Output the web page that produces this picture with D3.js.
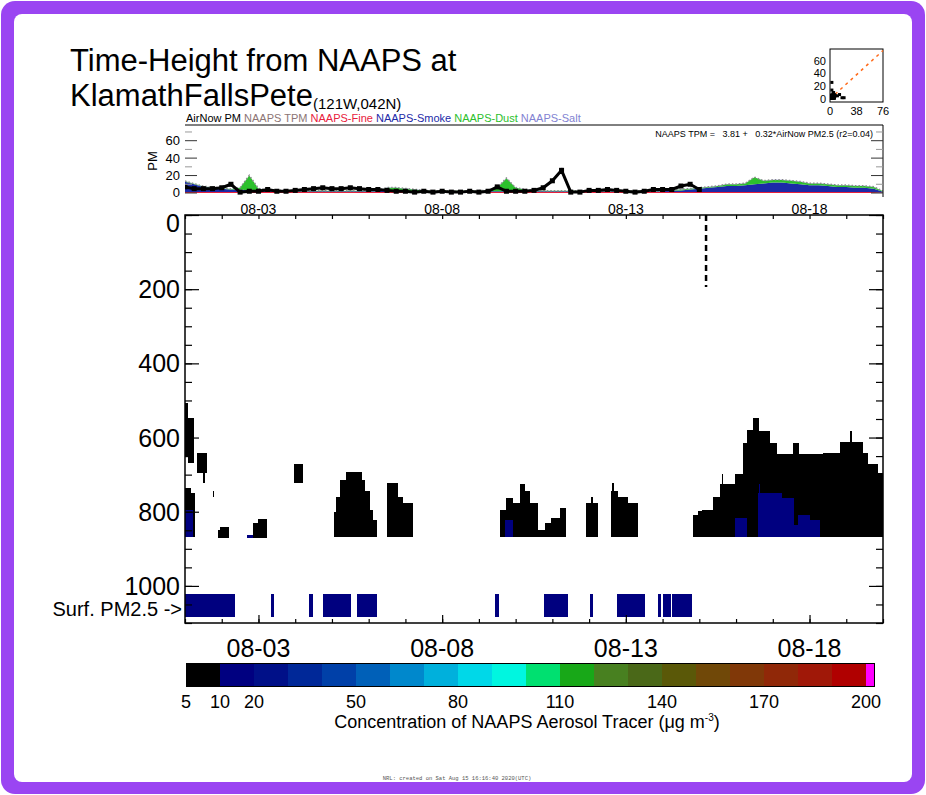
<!DOCTYPE html>
<html>
<head>
<meta charset="utf-8">
<script src="https://cdn.jsdelivr.net/npm/d3@7"></script>
<style>
  body { margin: 0; background: #fff; }
  svg { display: block; font-family: "Liberation Sans", Arial, sans-serif; }
</style>
</head>
<body>
<div id="chart"></div>
<script>

const FRAME_WIDTH = 926;
const FRAME_HEIGHT = 795;

// ---- data (time = hours since 2020-08-01 00Z, 19 days shown) ----
const N_HOURS = 456;
const DAY_TICKS = d3.range(0, 20);             // daily tick marks
const DATE_LABELS = ["08-03", "08-08", "08-13", "08-18"];
const DATE_LABEL_DAYS = [2, 7, 12, 17];

// top panel, 6-hourly values (ug/m3)
const AIRNOW_PM = [7, 5, 5, 5, 6, 10, 1, 2, 2, 4,
                   2, 2, 3, 4, 5, 6, 5, 5, 6, 5,
                   4, 4, 3, 2, 2, 1, 2, 1, 2, 1,
                   1, 2, 1, 2, 7, 2, 2, 2, 3, 6,
                   14, 26, 1, 1, 3, 3, 4, 3, 2, 1,
                   2, 4, 4, 4, 8, 10, 4];
const NAAPS_FINE = [1, 1, 1, 1, 1, 1, 1, 1, 1, 1,
                    1, 1, 1, 1, 1, 1, 1, 1, 1, 1,
                    1, 1, 1, 1, 1, 1, 1, 1, 1, 1,
                    1, 1, 1, 1, 1, 1, 1, 1, 1, 1,
                    1, 1, 1, 1, 1, 1, 1, 1, 1, 1,
                    1, 1, 1, 1, 1, 1, 1, 1, 1, 1,
                    1, 1, 1, 1, 1, 1, 1, 1, 1, 1,
                    1, 1, 1, 1, 1, 1, 0.5];
const NAAPS_SMOKE = [12, 9, 6, 5, 4, 3, 3, 2, 2, 2,
                     2, 1, 1, 1, 1, 1, 1, 1, 1, 1,
                     1, 1, 2, 2, 2, 1, 1, 1, 1, 1,
                     1, 1, 1, 1, 1, 1, 1, 1, 1, 1,
                     1, 1, 1, 1, 1, 1, 1, 1, 1, 1,
                     1, 1, 1, 2, 2, 3, 4, 5, 6, 7,
                     7, 8, 9, 10, 11, 11, 10, 9, 8, 8,
                     7, 6, 6, 5, 5, 4, 1];
const NAAPS_DUST = [0.5, 0.5, 0.5, 0.5, 0.5, 0.5, 2, 17, 2, 0.5,
                    0.5, 0.5, 0.5, 0.5, 0.5, 0.5, 0.5, 0.5, 0.5, 0.5,
                    0.5, 1, 3, 3, 2, 2, 1, 0.5, 0.5, 0.5,
                    0.5, 0.5, 0.5, 1, 4, 15, 4, 2, 1, 0.5,
                    0.5, 0.5, 0.5, 0.5, 0.5, 0.5, 0.5, 0.5, 0.5, 0.5,
                    0.5, 0.5, 0.5, 0.5, 1, 1, 1, 1, 1, 2,
                    2, 2, 8, 3, 3, 3, 3, 3, 2, 2,
                    2, 2, 2, 2, 2, 2, 0.5];
const NAAPS_SALT = [0.2, 0.2, 0.2, 0.2, 0.2, 0.2, 0.2, 0.2, 0.2, 0.2,
                    0.2, 0.2, 0.2, 0.2, 0.2, 0.2, 0.2, 0.2, 0.2, 0.2,
                    0.2, 0.2, 0.2, 0.2, 0.2, 0.2, 0.2, 0.2, 0.2, 0.2,
                    0.2, 0.2, 0.2, 0.2, 0.2, 0.2, 0.2, 0.2, 0.2, 0.2,
                    0.2, 0.2, 0.2, 0.2, 0.2, 0.2, 0.2, 0.2, 0.2, 0.2,
                    0.2, 0.2, 0.2, 0.2, 0.2, 0.2, 0.2, 0.2, 0.2, 0.2,
                    0.2, 0.2, 0.2, 0.2, 0.2, 0.2, 0.2, 0.2, 0.2, 0.2,
                    0.2, 0.2, 0.2, 0.2, 0.2, 0.2, 0.1];
const LEGEND_NAMES = ["AirNow PM", "NAAPS TPM", "NAAPS-Fine", "NAAPS-Smoke", "NAAPS-Dust", "NAAPS-Salt"];
const LEGEND_COLORS = ["#000000", "#8c7474", "#e8203c", "#1c2aa8", "#2cc02c", "#8282d2"];

// main time-height field: [hourStart, hourEnd, topLevel, bottomLevel]
const CELLS_5_10 = [
  [0, 2, 507, 650], [2, 6, 547, 668], [7.8, 14.4, 641, 695], [12, 13, 695, 722],
  [0, 4, 736, 868], [4, 6.5, 749, 868], [18, 19, 744, 760],
  [21.5, 23, 850, 870], [23, 28.5, 840, 870], [44.4, 47.7, 830, 870], [47.7, 53.6, 819, 870],
  [71.2, 77.1, 671, 722],
  [97.5, 98.5, 800, 868], [98.5, 101.3, 760, 868], [101.3, 105, 714, 868], [105, 115.5, 693, 868],
  [115.5, 117.6, 714, 868], [117.6, 120.9, 744, 868], [120.9, 122.8, 795, 868], [122.8, 125.3, 822, 868],
  [132, 139.2, 722, 868], [139.2, 142.4, 760, 868], [142.4, 149, 776, 868],
  [205.8, 209.7, 795, 868], [209.7, 214.3, 763, 868], [214.3, 218.9, 776, 868], [218.9, 222.2, 725, 868],
  [222.2, 225.4, 744, 868], [225.4, 230.7, 776, 868], [230.7, 235.2, 850, 868], [235.2, 239.1, 830, 868],
  [239.1, 245, 817, 868], [245, 248.9, 790, 868],
  [262, 269.9, 776, 868], [265.5, 266.5, 760, 776],
  [278.3, 282.9, 744, 868], [279.2, 280, 722, 744], [282.9, 289.5, 760, 868], [289.5, 296, 776, 868],
  [331.9, 335.2, 809, 868], [335.2, 337.8, 798, 868], [337.8, 345, 795, 868], [345, 349.6, 760, 868],
  [349.6, 359.4, 725, 868], [350.5, 351.5, 698, 725], [359.4, 364.6, 698, 868], [364.6, 367.2, 614, 868],
  [367.2, 371.1, 579, 868], [371.1, 375, 547, 868], [375, 382.2, 582, 868], [382.2, 386.8, 614, 868],
  [386.8, 397.3, 644, 868], [397.3, 401.2, 614, 868], [401.2, 416.9, 644, 868], [416.9, 428, 641, 868],
  [428, 443, 612, 868], [434.5, 435.5, 582, 612], [443, 446.3, 641, 868], [446.3, 452.8, 671, 868],
  [452.8, 456, 695, 868]
];
const CELLS_10_20 = [
  [0, 5, 795, 868], [40.5, 44.4, 862, 870], [209, 214.3, 822, 868],
  [359.4, 367.2, 817, 868], [374.3, 390, 749, 868], [374.8, 375.6, 725, 749],
  [390, 397.9, 763, 868], [397.9, 400.5, 835, 868], [400.5, 408.3, 809, 868], [408.3, 414.8, 822, 868]
];
// surface PM2.5 observations in the 10-20 bin: [hourStart, hourEnd]
const SURF_PM = [
  [0, 32.7], [56.2, 58.2], [81, 83.6], [90.2, 108.5], [112.4, 125.5], [202.6, 205.2],
  [234.6, 250.3], [264.6, 266.6], [282.3, 300.6], [309, 311], [312.3, 317.5], [318.2, 331.3]
];
const SURF_LEVELS = [1021, 1083];
const NOW_HOUR = 340.4;

// color bar
const CBAR_COLORS = ["#000000", "#000080", "#001088", "#002898", "#0040a8", "#0060b8", "#0088cc",
                     "#00b0dc", "#00d8e8", "#00f6e0", "#00e070", "#18a818", "#488020", "#4a6818",
                     "#5a5808", "#704808", "#803808", "#902808", "#a01808", "#b00000"];
const CBAR_LABELS = [5, 10, 20, 50, 80, 110, 140, 170, 200];

// ---- layout ----
const svg = d3.select("#chart")
              .append("svg")
                .attr("width", FRAME_WIDTH)
                .attr("height", FRAME_HEIGHT);

svg.append("rect").attr("x", 1).attr("y", 1).attr("width", 924).attr("height", 793)
   .attr("rx", 14).attr("fill", "#9a45f2");
svg.append("rect").attr("x", 14).attr("y", 14).attr("width", 898).attr("height", 768)
   .attr("rx", 8).attr("fill", "#ffffff");

// title
svg.append("text").attr("x", 70).attr("y", 71).attr("font-size", 31)
   .text("Time-Height from NAAPS at");
const t2 = svg.append("text").attr("x", 70).attr("y", 106).attr("font-size", 31);
t2.append("tspan").text("KlamathFallsPete");
t2.append("tspan").attr("font-size", 15).attr("dy", 3).text("(121W,042N)");

const X = d3.scaleLinear().domain([0, N_HOURS]).range([185, 883]);

// ================= top PM panel =================
const PM_Y = d3.scaleLinear().domain([-4.6, 78]).range([197, 125]);

const table = NAAPS_FINE.map((d, i) => ({
  h: i * 6, fine: d, smoke: NAAPS_SMOKE[i], dust: NAAPS_DUST[i], salt: NAAPS_SALT[i]
}));
const series = d3.stack().keys(["fine", "smoke", "dust", "salt"])(table);
const stackColors = {fine: "#e8203c", smoke: "#1c2aa8", dust: "#2cc02c", salt: "#8282d2"};

svg.append("clipPath").attr("id", "pmclip")
   .append("rect").attr("x", 185).attr("y", 125).attr("width", 698).attr("height", 73);

const pm = svg.append("g").attr("clip-path", "url(#pmclip)");

const area = d3.area()
               .x((d) => X(d.data.h))
               .y0((d) => PM_Y(d[0]))
               .y1((d) => PM_Y(d[1]));

pm.selectAll(".stack")
  .data(series)
  .enter()
  .append("path")
    .attr("class", "stack")
    .attr("d", area)
    .attr("fill", (d) => stackColors[d.key]);

// total NAAPS PM (dotted)
pm.append("path")
  .datum(table)
  .attr("d", d3.line().x((d) => X(d.h)).y((d) => PM_Y(d.fine + d.smoke + d.dust + d.salt)))
  .attr("fill", "none").attr("stroke", "#8c8c8c").attr("stroke-width", 1.5)
  .attr("stroke-dasharray", "1.5,2");

// AirNow observations
pm.append("path")
  .datum(AIRNOW_PM)
  .attr("d", d3.line().x((d, i) => X(i * 6)).y((d) => PM_Y(d)))
  .attr("fill", "none").attr("stroke", "#000").attr("stroke-width", 3);
pm.selectAll(".obs")
  .data(AIRNOW_PM)
  .enter()
  .append("rect")
    .attr("class", "obs")
    .attr("x", (d, i) => X(i * 6) - 2.5)
    .attr("y", (d) => PM_Y(d) - 2.5)
    .attr("width", 5).attr("height", 5)
    .attr("fill", "#000");

// panel frame + ticks
svg.append("path").attr("d", "M185,125H883V197").attr("fill", "none").attr("stroke", "#000");
const pmTicks = d3.range(0, 80, 10);
svg.selectAll(".pmtickL")
   .data(pmTicks).enter().append("line")
     .attr("x1", 185).attr("x2", (d) => d % 20 === 0 ? 197 : 192)
     .attr("y1", (d) => PM_Y(d)).attr("y2", (d) => PM_Y(d))
     .attr("stroke", (d) => d % 20 === 0 ? "#333" : "#999");
svg.selectAll(".pmtickR")
   .data(pmTicks).enter().append("line")
     .attr("x1", 883).attr("x2", (d) => d % 20 === 0 ? 871 : 876)
     .attr("y1", (d) => PM_Y(d)).attr("y2", (d) => PM_Y(d))
     .attr("stroke", (d) => d % 20 === 0 ? "#333" : "#999");
svg.selectAll(".pmlab")
   .data([0, 20, 40, 60]).enter().append("text")
     .attr("x", 180).attr("y", (d) => PM_Y(d) + 4.5)
     .attr("text-anchor", "end").attr("font-size", 13)
     .text((d) => d);
svg.append("text").attr("transform", "translate(157,161) rotate(-90)")
   .attr("text-anchor", "middle").attr("font-size", 13).text("PM");

// legend
const leg = svg.append("text").attr("x", 186).attr("y", 122).attr("font-size", 11);
LEGEND_NAMES.forEach((n, i) => {
  leg.append("tspan").attr("fill", LEGEND_COLORS[i]).text((i > 0 ? " " : "") + n);
});

svg.append("text").attr("x", 873).attr("y", 137).attr("text-anchor", "end")
   .attr("font-size", 9).style("white-space", "pre")
   .text("NAAPS TPM =   3.81 +   0.32*AirNow PM2.5 (r2=0.04)");

svg.selectAll(".pmdate")
   .data(DATE_LABELS).enter().append("text")
     .attr("x", (d, i) => X(DATE_LABEL_DAYS[i] * 24))
     .attr("y", 214).attr("text-anchor", "middle").attr("font-size", 14)
     .text((d) => d);

// ================= inset scatter =================
const SX = d3.scaleLinear().domain([0, 76]).range([830, 883]);
const SY = d3.scaleLinear().domain([0, 60]).range([99, 60.7]);
const scatter = svg.append("g");
scatter.append("rect").attr("x", 830).attr("y", 49).attr("width", 53).attr("height", 53)
       .attr("fill", "none").attr("stroke", "#000");
scatter.append("line")
       .attr("x1", SX(0)).attr("y1", SY(0)).attr("x2", SX(76)).attr("y2", SY(76))
       .attr("stroke", "#ff6a1a").attr("stroke-width", 1.5).attr("stroke-dasharray", "3,4");
scatter.selectAll(".pt")
       .data(AIRNOW_PM).enter().append("rect")
         .attr("x", (d, i) => SX(table[i].fine + table[i].smoke + table[i].dust + table[i].salt) - 1.5)
         .attr("y", (d) => SY(d) - 1.5)
         .attr("width", 3).attr("height", 3)
         .attr("fill", "#000");
scatter.selectAll(".sylab")
       .data([0, 20, 40, 60]).enter().append("text")
         .attr("x", 826).attr("y", (d) => SY(d) + 4)
         .attr("text-anchor", "end").attr("font-size", 11).text((d) => d);
scatter.selectAll(".sxlab")
       .data([0, 38, 76]).enter().append("text")
         .attr("x", (d) => SX(d)).attr("y", 115)
         .attr("text-anchor", "middle").attr("font-size", 11).text((d) => d);

// ================= main time-height panel =================
const Y = d3.scaleLinear().domain([0, 1100]).range([215, 623]);

const main = svg.append("g").attr("shape-rendering", "crispEdges");

function drawCells(cells, color) {
  main.selectAll(null)
      .data(cells).enter().append("rect")
        .attr("x", (d) => X(d[0]))
        .attr("width", (d) => X(d[1]) - X(d[0]))
        .attr("y", (d) => Y(d[2]))
        .attr("height", (d) => Y(d[3]) - Y(d[2]))
        .attr("fill", color);
}
drawCells(CELLS_5_10, CBAR_COLORS[0]);
drawCells(CELLS_10_20, CBAR_COLORS[1]);

main.selectAll(".surf")
    .data(SURF_PM).enter().append("rect")
      .attr("x", (d) => X(d[0]))
      .attr("width", (d) => X(d[1]) - X(d[0]))
      .attr("y", Y(SURF_LEVELS[0]))
      .attr("height", Y(SURF_LEVELS[1]) - Y(SURF_LEVELS[0]))
      .attr("fill", "#00007f");

svg.append("line")
   .attr("x1", X(NOW_HOUR)).attr("x2", X(NOW_HOUR))
   .attr("y1", Y(0)).attr("y2", Y(194))
   .attr("stroke", "#000").attr("stroke-width", 2.5).attr("stroke-dasharray", "6,4");

// frame
svg.append("rect").attr("x", 185).attr("y", 215).attr("width", 698).attr("height", 408)
   .attr("fill", "none").attr("stroke", "#000").attr("stroke-width", 1.5);

// axes ticks (inward)
const minorY = d3.range(0, 1101, 50);
const majorY = d3.range(0, 1001, 200);
function tickAxis(axis, transform) {
  const g = svg.append("g").attr("transform", transform).call(axis);
  g.select(".domain").remove();
  g.selectAll("line").attr("stroke-width", 1.2);
  return g;
}
tickAxis(d3.axisLeft(Y).tickValues(minorY).tickSize(-7).tickFormat(""), "translate(185,0)");
tickAxis(d3.axisLeft(Y).tickValues(majorY).tickSize(-14).tickFormat(""), "translate(185,0)");
tickAxis(d3.axisRight(Y).tickValues(minorY).tickSize(-7).tickFormat(""), "translate(883,0)");
tickAxis(d3.axisRight(Y).tickValues(majorY).tickSize(-14).tickFormat(""), "translate(883,0)");
tickAxis(d3.axisBottom(X).tickValues(DAY_TICKS.map((d) => d * 24)).tickSize(-4).tickFormat(""), "translate(0,623)");
tickAxis(d3.axisBottom(X).tickValues(DATE_LABEL_DAYS.map((d) => d * 24)).tickSize(-8).tickFormat(""), "translate(0,623)");
tickAxis(d3.axisTop(X).tickValues(DAY_TICKS.map((d) => d * 24)).tickSize(-4).tickFormat(""), "translate(0,215)");

svg.selectAll(".ylab")
   .data(majorY).enter().append("text")
     .attr("x", 180)
     .attr("y", (d) => Math.max(Y(d), 223) + 9)   // top label kept inside the frame
     .attr("text-anchor", "end").attr("font-size", 25)
     .text((d) => d);

svg.append("text").attr("x", 182).attr("y", 616).attr("text-anchor", "end")
   .attr("font-size", 20).text("Surf. PM2.5 ->");

svg.selectAll(".xlab")
   .data(DATE_LABELS).enter().append("text")
     .attr("x", (d, i) => X(DATE_LABEL_DAYS[i] * 24))
     .attr("y", 657).attr("text-anchor", "middle").attr("font-size", 25)
     .text((d) => d);

// ================= colour bar =================
const CB_X = d3.scaleLinear().domain([0, 20]).range([186, 866]);
const cbar = svg.append("g").attr("shape-rendering", "crispEdges");
cbar.selectAll(".cb")
    .data(CBAR_COLORS).enter().append("rect")
      .attr("x", (d, i) => CB_X(i))
      .attr("width", CB_X(1) - CB_X(0) + 0.5)
      .attr("y", 663).attr("height", 23)
      .attr("fill", (d) => d);
cbar.append("rect").attr("x", CB_X(20)).attr("width", CB_X(20.25) - CB_X(20))
    .attr("y", 663).attr("height", 23).attr("fill", "#ff00ff");
cbar.append("rect").attr("x", CB_X(0)).attr("y", 663)
    .attr("width", CB_X(20.25) - CB_X(0)).attr("height", 23)
    .attr("fill", "none").attr("stroke", "#000");

svg.selectAll(".cblab")
   .data(CBAR_LABELS).enter().append("text")
     .attr("x", (d) => CB_X(d < 10 ? 0 : d / 10))
     .attr("y", 708).attr("text-anchor", "middle").attr("font-size", 18)
     .text((d) => d);

const cbt = svg.append("text").attr("x", 527).attr("y", 728)
               .attr("text-anchor", "middle").attr("font-size", 18);
cbt.append("tspan").text("Concentration of NAAPS Aerosol Tracer (\u03bcg m");
cbt.append("tspan").attr("font-size", 10).attr("dy", -7).text("-3");
cbt.append("tspan").attr("dy", 7).text(")");

svg.append("text").attr("x", 457).attr("y", 780).attr("text-anchor", "middle")
   .attr("font-size", 5.5).attr("font-family", "Liberation Mono, monospace").attr("fill", "#555")
   .text("NRL: created on Sat Aug 15 16:16:40 2020(UTC)");

</script>
</body>
</html>
